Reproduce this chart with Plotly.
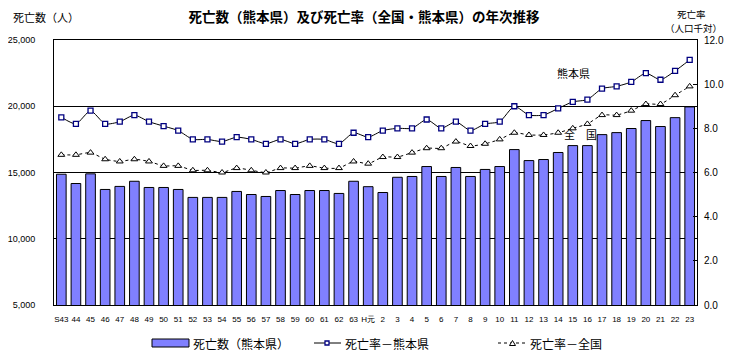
import plotly.graph_objects as go

categories = ["S43", "44", "45", "46", "47", "48", "49", "50", "51", "52", "53", "54",
              "55", "56", "57", "58", "59", "60", "61", "62", "63", "H元", "2", "3", "4",
              "5", "6", "7", "8", "9", "10", "11", "12", "13", "14", "15", "16", "17",
              "18", "19", "20", "21", "22", "23"]

deaths_kumamoto = [14870, 14170, 14900, 13720, 13950, 14340, 13870, 13870, 13720, 13120,
                   13120, 13120, 13570, 13340, 13190, 13640, 13340, 13640, 13640, 13420,
                   14340, 13930, 13490, 14640, 14700, 15450, 14700, 15380, 14700, 15230,
                   15450, 16730, 15900, 15980, 16510, 17030, 17030, 17860, 18010, 18320,
                   18920, 18470, 19140, 19950]

rate_kumamoto = [8.5, 8.2, 8.8, 8.2, 8.3, 8.6, 8.3, 8.1, 7.9, 7.5, 7.5, 7.4, 7.6, 7.5, 7.3,
                 7.5, 7.3, 7.5, 7.5, 7.3, 7.8, 7.6, 7.9, 8.0, 8.0, 8.4, 8.0, 8.3, 7.9, 8.2,
                 8.3, 9.0, 8.6, 8.6, 8.9, 9.2, 9.3, 9.8, 9.9, 10.1, 10.5, 10.2, 10.6, 11.1]

rate_national = [6.8, 6.8, 6.9, 6.6, 6.5, 6.6, 6.5, 6.3, 6.3, 6.1, 6.1, 6.0, 6.2, 6.1, 6.0,
                 6.2, 6.2, 6.3, 6.2, 6.2, 6.5, 6.4, 6.7, 6.7, 6.9, 7.1, 7.1, 7.4, 7.2, 7.3,
                 7.5, 7.8, 7.7, 7.7, 7.8, 8.0, 8.2, 8.6, 8.6, 8.8, 9.1, 9.1, 9.5, 9.9]

left_ticks = [5000, 10000, 15000, 20000, 25000]
right_ticks = [0, 2, 4, 6, 8, 10, 12]

FONT = "Noto Sans CJK JP"
NUMFONT = "Liberation Sans"
BAR_COLOR = "#8080FF"
NAVY = "#000080"

fig = go.Figure()

fig.add_trace(go.Bar(
    x=categories, y=deaths_kumamoto, name="死亡数（熊本県）",
    marker=dict(color=BAR_COLOR, line=dict(color="black", width=1)),
    yaxis="y", showlegend=False,
))

fig.add_trace(go.Scatter(
    x=categories, y=rate_kumamoto, name="死亡率－熊本県", yaxis="y2",
    mode="lines+markers",
    line=dict(color="black", width=1, shape="spline", smoothing=0.6),
    marker=dict(symbol="square", size=5, color="white", line=dict(color=NAVY, width=1.3)),
    showlegend=False,
))

fig.add_trace(go.Scatter(
    x=categories, y=rate_national, name="死亡率－全国", yaxis="y2",
    mode="lines+markers",
    line=dict(color="black", width=1, dash="3px,3px", shape="spline", smoothing=0.6),
    marker=dict(symbol="triangle-up", size=6, color="white", line=dict(color="black", width=1)),
    showlegend=False,
))

# The page body adds an 8px offset; compensate so the plot lands at the reference pixels.
OFF = 8
W, H = 735 - OFF, 356 - OFF
L, R, T, B = 54 - OFF, 38, 40 - OFF, 51
PW, PH = W - L - R, H - T - B


def px(x):
    return (x - OFF - L) / PW


def py(y):
    return (H - B - (y - OFF)) / PH


shapes = []
annotations = []

# Legend (drawn manually)
shapes.append(dict(type="rect", xref="paper", yref="paper",
                   x0=px(152), x1=px(189), y0=py(347), y1=py(339),
                   fillcolor=BAR_COLOR, line=dict(color="black", width=1)))
annotations.append(dict(text="死亡数（熊本県）", xref="paper", yref="paper",
                        x=px(191), y=py(343), xanchor="left", yanchor="middle",
                        showarrow=False, font=dict(size=12, family=FONT, color="black")))

shapes.append(dict(type="line", xref="paper", yref="paper",
                   x0=px(314), x1=px(341), y0=py(343), y1=py(343),
                   line=dict(color="black", width=1)))
shapes.append(dict(type="rect", xref="paper", yref="paper",
                   x0=px(325), x1=px(329), y0=py(345), y1=py(341),
                   fillcolor="white", line=dict(color=NAVY, width=1.3)))
annotations.append(dict(text="死亡率－熊本県", xref="paper", yref="paper",
                        x=px(343), y=py(343), xanchor="left", yanchor="middle",
                        showarrow=False, font=dict(size=12, family=FONT, color="black")))

shapes.append(dict(type="line", xref="paper", yref="paper",
                   x0=px(498), x1=px(527), y0=py(343), y1=py(343),
                   line=dict(color="black", width=1, dash="3px,3px")))
shapes.append(dict(type="path", xref="paper", yref="paper",
                   path=f"M {px(509.5)},{py(345.5)} L {px(515.5)},{py(345.5)} L {px(512.5)},{py(340.5)} Z",
                   fillcolor="white", line=dict(color="black", width=1)))
annotations.append(dict(text="死亡率－全国", xref="paper", yref="paper",
                        x=px(528), y=py(343), xanchor="left", yanchor="middle",
                        showarrow=False, font=dict(size=12, family=FONT, color="black")))

# Axis titles
annotations.append(dict(text="死亡数（人）", xref="paper", yref="paper",
                        x=px(11), y=py(17), xanchor="left", yanchor="middle",
                        showarrow=False, font=dict(size=11, family=FONT, color="black")))
annotations.append(dict(text="死亡率", xref="paper", yref="paper",
                        x=px(691), y=py(14), xanchor="center", yanchor="middle",
                        showarrow=False, font=dict(size=9.5, family=FONT, color="black")))
annotations.append(dict(text="（人口千対）", xref="paper", yref="paper",
                        x=px(693), y=py(28), xanchor="center", yanchor="middle",
                        showarrow=False, font=dict(size=9.5, family=FONT, color="black")))

# In-plot labels
annotations.append(dict(text="熊本県", xref="paper", yref="paper",
                        x=px(573), y=py(73), xanchor="center", yanchor="middle",
                        showarrow=False, font=dict(size=11, family=FONT, color="black")))
annotations.append(dict(text="全　国", xref="paper", yref="paper",
                        x=px(580), y=py(134), xanchor="center", yanchor="middle",
                        showarrow=False, font=dict(size=11, family=FONT, color="black")))

fig.update_layout(
    width=W, height=H,
    margin=dict(l=L, r=R, t=T, b=B, pad=0, autoexpand=False),
    paper_bgcolor="white", plot_bgcolor="white",
    font=dict(family=FONT, color="black", size=10),
    title=dict(text="<b>死亡数（熊本県）及び死亡率（全国・熊本県）の年次推移</b>",
               x=(364 - OFF) / W, xanchor="center", y=1 - (17 - OFF) / H, yanchor="middle",
               font=dict(size=13.5, family=FONT, color="black")),
    bargap=0.34,
    showlegend=False,
    xaxis=dict(
        type="category", categoryorder="array", categoryarray=categories,
        range=[-0.5, len(categories) - 0.5], autorange=False,
        showline=True, linecolor="black", linewidth=1, mirror=True,
        showgrid=False, ticks="", tickangle=0, automargin=False,
        tickfont=dict(size=8, family=NUMFONT, color="black"),
        ticklabelstandoff=6,
    ),
    yaxis=dict(
        range=[5000, 25000], tickvals=left_ticks, tickformat=",d",
        showline=True, linecolor="black", linewidth=1,
        showgrid=True, gridcolor="black", gridwidth=1,
        zeroline=False, ticks="", automargin=False,
        tickfont=dict(size=9, family=NUMFONT, color="black"),
        ticklabelstandoff=16,
    ),
    yaxis2=dict(
        range=[0, 12], tickvals=right_ticks, tickformat=".1f",
        overlaying="y", side="right",
        showline=True, linecolor="black", linewidth=1,
        showgrid=False, zeroline=False, automargin=False,
        ticks="inside", ticklen=4, tickcolor="black",
        tickfont=dict(size=10, family=NUMFONT, color="black"),
        ticklabelstandoff=4,
    ),
    shapes=shapes,
    annotations=annotations,
)

fig.write_html("out.html")
